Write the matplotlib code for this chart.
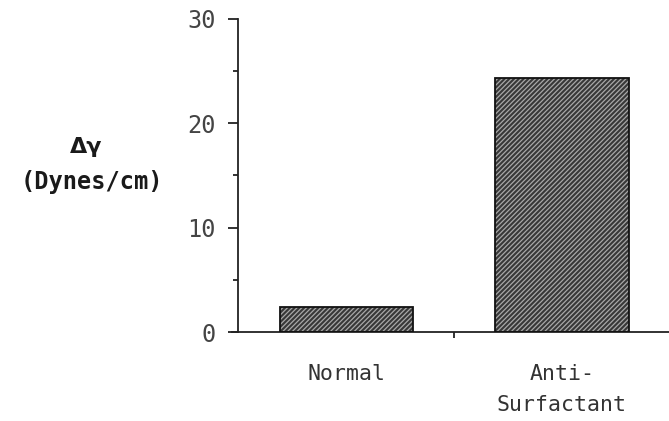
import matplotlib
matplotlib.use("Agg")
import matplotlib.pyplot as plt
from matplotlib.ticker import FixedLocator

categories = ["Normal", "Anti-\nSurfactant"]
values = [2.4, 24.3]
y_major = [0, 10, 20, 30]
y_minor = [5, 15, 25]

plt.rcParams['hatch.linewidth'] = 0.9
plt.rcParams['font.family'] = ['DejaVu Sans Mono']

fig = plt.figure(figsize=(6.69, 4.21), dpi=100)
W, H = 669, 421
ax = fig.add_axes([232 / W, (H - 332) / H, (669 - 232) / W, (332 - 19) / H])

x = list(range(len(categories)))
ax.bar(x, values, width=0.62, color='#383838', edgecolor='#a8a8a8', linewidth=0, hatch='///////', zorder=2)
ax.bar(x, values, width=0.62, fill=False, edgecolor='#111111', linewidth=1.3, zorder=3)

ax.set_xlim(-0.531, 1.497)
ax.set_ylim(0, 30)

for s in ['top', 'right']:
    ax.spines[s].set_visible(False)
ax.spines['left'].set_position(('axes', 6 / 437))
for s in ['left', 'bottom']:
    ax.spines[s].set_color('#222222')
    ax.spines[s].set_linewidth(1.3)

ax.yaxis.set_major_locator(FixedLocator(y_major))
ax.yaxis.set_minor_locator(FixedLocator(y_minor))
ax.tick_params(axis='y', which='major', direction='out', length=7, width=1.3, color='#222222',
               labelsize=17, pad=9, labelcolor='#444444')
ax.tick_params(axis='y', which='minor', direction='out', length=3.5, width=1.3, color='#222222')
for lbl in ax.get_yticklabels():
    lbl.set_fontweight('light')

ax.set_xticks(x)
ax.set_xticklabels(categories, linespacing=1.7, va='top')
ax.xaxis.set_minor_locator(FixedLocator([0.5]))
ax.tick_params(axis='x', which='major', length=0, labelsize=15.5, pad=23, labelcolor='#333333')
ax.tick_params(axis='x', which='minor', direction='out', length=4, width=1.3, color='#222222')

fig.text(86 / W, 1 - 147 / H, "Δγ", ha='center', va='center', fontsize=16,
         fontweight='bold', family=['DejaVu Sans'], color='#1a1a1a')
fig.text(92 / W, 1 - 182 / H, "(Dynes/cm)", ha='center', va='center', fontsize=17,
         fontweight='bold', color='#1a1a1a')

fig.savefig("out.png", dpi=100)
